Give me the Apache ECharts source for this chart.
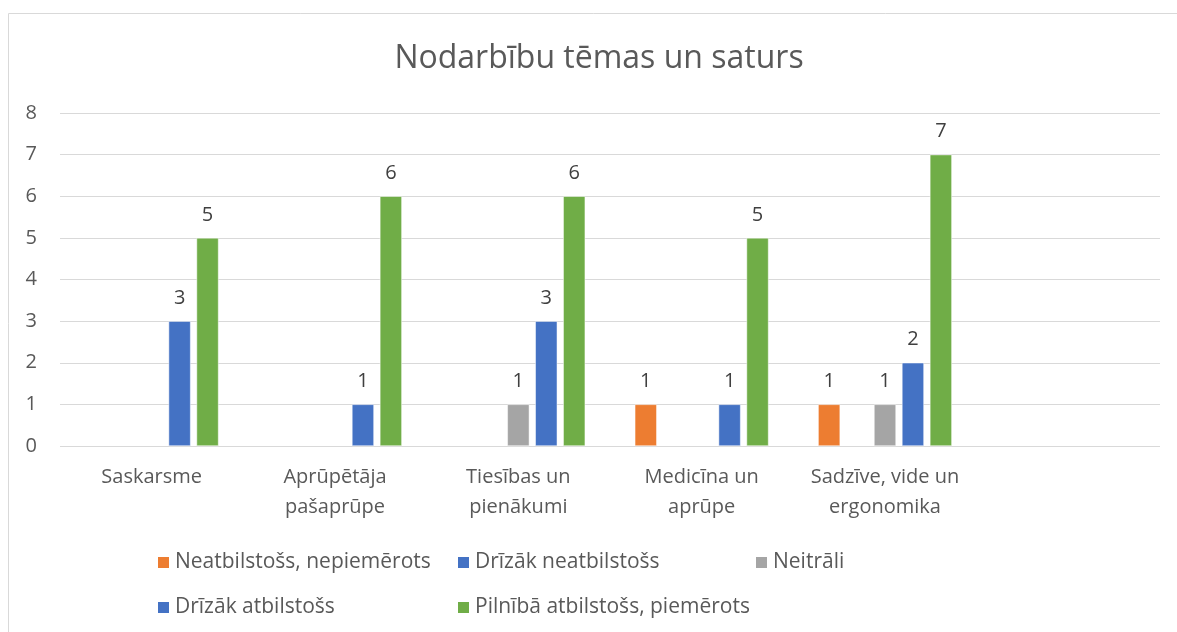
<!DOCTYPE html>
<html>
<head>
<meta charset="utf-8">
<script src="https://cdn.jsdelivr.net/npm/echarts@6/dist/echarts.min.js"></script>
<style>
  html, body { margin: 0; padding: 0; background: #fff; }
  #chart { width: 1177px; height: 632px; }
</style>
</head>
<body>
<div id="chart"></div>
<script>
// ==============================
// data
// ==============================
const categories = ['Saskarsme', 'Aprūpētāja\npašaprūpe', 'Tiesības un\npienākumi', 'Medicīna un\naprūpe', 'Sadzīve, vide un\nergonomika', ''];

const seriesNames = [
  'Neatbilstošs, nepiemērots',
  'Drīzāk neatbilstošs',
  'Neitrāli',
  'Drīzāk atbilstošs',
  'Pilnībā atbilstošs, piemērots'
];

const neatbilstoss = [null, null, null, 1, 1, null];
const drizakNeatbilstoss = [null, null, null, null, null, null];
const neitrali = [null, null, 1, null, 1, null];
const drizakAtbilstoss = [3, 1, 3, 1, 2, null];
const pilniba = [5, 6, 6, 5, 7, null];

const yTicks = [0, 1, 2, 3, 4, 5, 6, 7, 8];

const seriesValues = [neatbilstoss, drizakNeatbilstoss, neitrali, drizakAtbilstoss, pilniba];
const barColors = ['#ED7D31', '#4472C4', '#A5A5A5', '#4472C4', '#70AD47'];

// legend layout: two rows, fixed columns (left includes the 5px legend padding)
const legendPos = [
  { left: 151, top: 547 },
  { left: 451, top: 547 },
  { left: 749, top: 547 },
  { left: 151, top: 592 },
  { left: 451, top: 592 }
];

const FONT = '"Open Sans", sans-serif';

// ==============================
// chart
// ==============================
const chart = echarts.init(document.getElementById('chart'));

const series = seriesNames.map((name, i) => ({
  name: name,
  type: 'bar',
  data: seriesValues[i],
  barWidth: 22,
  barGap: '27%',
  itemStyle: {
    color: barColors[i],
    borderColor: '#fff',
    borderWidth: 0.5
  },
  label: {
    show: true,
    position: 'top',
    distance: 13,
    color: '#404040',
    fontSize: 20,
    fontFamily: FONT
  }
}));

chart.setOption({
  animation: false,
  title: {
    text: 'Nodarbību tēmas un saturs',
    left: 594,
    top: 38,
    textAlign: 'center',
    textStyle: {
      color: '#595959',
      fontSize: 32,
      fontWeight: 'normal',
      fontFamily: FONT
    }
  },
  graphic: [{
    type: 'rect',
    shape: { x: 8.5, y: 13.5, width: 1200, height: 640 },
    style: { fill: 'none', stroke: '#D9D9D9', lineWidth: 1 },
    silent: true
  }],
  legend: seriesNames.map((name, i) => ({
    data: [name],
    left: legendPos[i].left,
    top: legendPos[i].top,
    itemWidth: 13,
    itemHeight: 13,
    icon: 'rect',
    textStyle: {
      color: '#595959',
      fontSize: 21,
      fontFamily: FONT
    }
  })),
  grid: {
    left: 60,
    right: 17,
    top: 113,
    bottom: 186
  },
  xAxis: {
    type: 'category',
    data: categories,
    axisLine: { show: false },
    axisTick: { show: false },
    axisLabel: {
      interval: 0,
      color: '#595959',
      fontSize: 20,
      fontFamily: FONT,
      lineHeight: 30,
      margin: 16
    }
  },
  yAxis: {
    type: 'value',
    min: yTicks[0],
    max: yTicks[yTicks.length - 1],
    interval: 1,
    axisLine: { show: false },
    axisTick: { show: false },
    splitLine: { lineStyle: { color: '#D9D9D9', width: 1 } },
    axisLabel: {
      color: '#595959',
      fontSize: 20,
      fontFamily: FONT,
      margin: 23
    }
  },
  series: series
});
</script>
</body>
</html>
